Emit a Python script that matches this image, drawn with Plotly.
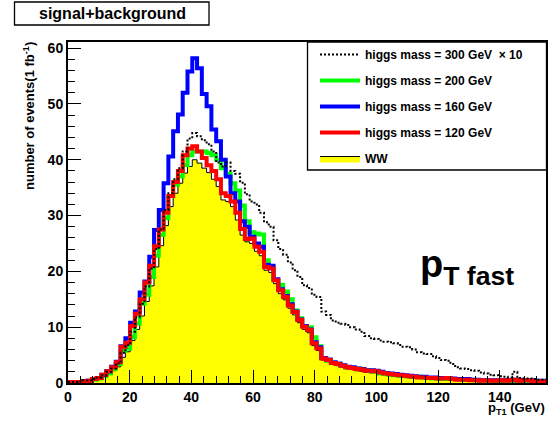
import plotly.graph_objects as go

# ---------------- data (100 bins, 0 - 155 GeV) ----------------
BIN_WIDTH = 1.55
N_BINS = 100

ww = [0.1, 0.1, 0.2, 0.2, 0.3, 0.5, 0.7, 1.1, 1.6, 2.2,
      2.9, 4.6, 5.6, 7.6, 9.6, 12.0, 14.6, 17.4, 20.8, 24.6,
      28.2, 31.6, 34.0, 35.8, 37.6, 38.8, 40.0, 39.4, 38.5, 37.7,
      36.5, 35.2, 32.8, 32.5, 31.6, 29.2, 26.5, 25.3, 25.0, 23.6,
      22.8, 20.2, 19.8, 17.8, 16.0, 14.9, 13.4, 12.2, 10.8, 9.6,
      9.0, 6.7, 5.8, 4.1, 3.8, 3.3, 3.1, 2.8, 2.5, 2.4,
      2.2, 2.1, 1.9, 1.8, 1.8, 1.6, 1.4, 1.3, 1.2, 1.1,
      1.0, 0.9, 0.9, 0.8, 0.8, 0.7, 0.7, 0.6, 0.6, 0.5,
      0.5, 0.5, 0.4, 0.4, 0.4, 0.4, 0.3, 0.3, 0.3, 0.3,
      0.3, 0.3, 0.2, 0.3, 0.2, 0.2, 0.2, 0.2, 0.2, 0.2]

h120 = [0.2, 0.2, 0.2, 0.3, 0.4, 0.7, 0.9, 1.5, 2.1, 2.8,
        3.7, 6.5, 7.2, 10.2, 12.4, 15.0, 18.0, 21.0, 24.5, 27.5,
        30.5, 33.5, 36.0, 38.0, 40.8, 42.0, 42.4, 41.5, 40.3, 39.0,
        38.0, 36.5, 34.0, 33.5, 32.5, 30.5, 27.6, 25.8, 25.9, 24.4,
        23.5, 20.8, 20.5, 18.4, 16.6, 15.4, 13.9, 12.7, 11.3, 10.1,
        9.5, 7.1, 6.2, 4.4, 4.1, 3.6, 3.4, 3.1, 2.8, 2.7,
        2.5, 2.4, 2.2, 2.2, 2.1, 1.9, 1.7, 1.6, 1.5, 1.4,
        1.3, 1.2, 1.1, 1.0, 1.0, 0.9, 0.9, 0.8, 0.8, 0.9,
        0.7, 0.6, 0.6, 0.6, 0.5, 0.5, 0.4, 0.5, 0.4, 0.4,
        0.5, 0.4, 0.5, 0.6, 0.4, 0.5, 0.5, 0.3, 0.3, 0.3]

h160 = [0.2, 0.2, 0.2, 0.3, 0.4, 0.7, 0.9, 1.5, 2.1, 2.9,
        3.8, 6.6, 8.0, 10.8, 12.8, 16.2, 18.2, 22.6, 27.4, 31.0,
        35.8, 40.6, 45.1, 48.1, 52.0, 55.8, 58.2, 56.4, 51.8, 49.6,
        45.4, 43.3, 40.0, 37.0, 34.0, 32.5, 29.0, 28.0, 26.2, 25.0,
        24.4, 21.2, 21.0, 18.6, 16.8, 15.6, 14.1, 12.8, 11.4, 10.2,
        9.6, 7.3, 6.4, 4.5, 4.2, 3.7, 3.5, 3.2, 2.9, 2.8,
        2.6, 2.5, 2.3, 2.3, 2.2, 2.0, 1.8, 1.7, 1.6, 1.5,
        1.4, 1.3, 1.2, 1.1, 1.1, 1.0, 1.0, 0.9, 0.9, 0.9,
        0.8, 0.7, 0.7, 0.7, 0.6, 0.6, 0.5, 0.5, 0.5, 0.5,
        0.5, 0.5, 0.5, 0.6, 0.5, 0.5, 0.5, 0.4, 0.4, 0.4]

h200 = [0.2, 0.2, 0.2, 0.3, 0.3, 0.6, 0.8, 1.2, 1.7, 2.5,
        3.4, 5.8, 6.2, 8.2, 10.6, 14.2, 15.8, 19.0, 22.8, 26.5,
        29.5, 33.5, 35.5, 37.0, 39.0, 40.8, 41.5, 41.5, 41.5, 41.2,
        40.8, 40.0, 38.5, 37.5, 35.8, 34.5, 31.8, 29.0, 27.0, 26.8,
        26.6, 22.0, 20.8, 18.4, 17.6, 16.4, 15.0, 13.0, 11.6, 10.2,
        10.0, 8.2, 6.6, 4.5, 4.0, 3.6, 3.4, 3.1, 2.8, 2.7,
        2.6, 2.5, 2.3, 2.2, 2.0, 1.7, 1.6, 1.5, 1.4, 1.3,
        1.2, 1.2, 1.1, 1.1, 1.0, 0.9, 0.8, 0.8, 0.7, 0.7,
        0.7, 0.7, 0.6, 0.6, 0.6, 0.5, 0.5, 0.5, 0.4, 0.4,
        0.4, 0.4, 0.4, 0.3, 0.3, 0.3, 0.3, 0.3, 0.3, 0.3]

h300x10 = [0.2, 0.2, 0.3, 0.5, 0.5, 0.7, 1.0, 1.4, 2.0, 2.6,
           3.5, 5.4, 6.8, 9.2, 11.8, 14.2, 17.3, 20.5, 24.0, 27.5,
           31.0, 34.0, 36.5, 38.5, 41.5, 43.8, 44.8, 44.2, 43.5, 42.8,
           41.5, 39.5, 38.8, 39.5, 38.0, 37.5, 35.9, 33.8, 32.5, 32.0,
           30.5, 28.8, 28.0, 25.6, 24.0, 23.0, 21.6, 20.2, 19.0, 17.5,
           17.0, 15.8, 15.4, 12.8, 12.2, 11.2, 10.8, 10.6, 10.4, 10.0,
           9.6, 9.2, 8.4, 8.0, 7.9, 7.6, 7.4, 7.3, 7.1, 6.8,
           6.5, 6.4, 6.0, 5.5, 5.3, 5.2, 4.8, 4.5, 4.1, 4.0,
           3.4, 2.8, 2.6, 2.5, 2.3, 2.2, 1.9, 1.7, 1.5, 1.4,
           1.2, 1.1, 1.0, 2.0, 0.9, 0.8, 0.8, 0.7, 0.6, 0.6]

x_ticks = [0, 20, 40, 60, 80, 100, 120, 140]
y_ticks = [0, 10, 20, 30, 40, 50, 60]

legend_labels = {
    "h300": "higgs mass = 300 GeV\u00a0\u00a0\u00d7\u00a010",
    "h200": "higgs mass = 200 GeV",
    "h160": "higgs mass = 160 GeV",
    "h120": "higgs mass = 120 GeV",
    "ww": "WW",
}

# ---------------- helpers ----------------
edges = [i * BIN_WIDTH for i in range(N_BINS + 1)]


def step_y(vals):
    return list(vals) + [vals[-1]]


FONT = "Liberation Sans, Arial, Helvetica, sans-serif"

fig = go.Figure()

fig.add_trace(go.Scatter(
    x=edges, y=step_y(ww), mode="lines", line_shape="hv",
    line=dict(color="black", width=1), fill="tozeroy", fillcolor="#FFFF00",
    name=legend_labels["ww"], legendrank=5, legendgroup="g5"))

fig.add_trace(go.Scatter(
    x=edges, y=step_y(h200), mode="lines", line_shape="hv",
    line=dict(color="#00FF00", width=4),
    name=legend_labels["h200"], legendrank=2, legendgroup="g2"))

fig.add_trace(go.Scatter(
    x=edges, y=step_y(h160), mode="lines", line_shape="hv",
    line=dict(color="#0000FF", width=4),
    name=legend_labels["h160"], legendrank=3, legendgroup="g3"))

fig.add_trace(go.Scatter(
    x=edges, y=step_y(h120), mode="lines", line_shape="hv",
    line=dict(color="#FF0000", width=4),
    name=legend_labels["h120"], legendrank=4, legendgroup="g4"))

fig.add_trace(go.Scatter(
    x=edges, y=step_y(h300x10), mode="lines", line_shape="hv",
    line=dict(color="black", width=2, dash="2px,2px"),
    name=legend_labels["h300"], legendrank=1, legendgroup="g1"))

W, H = 555, 421
# plot area in window pixels: x 68..546, y 42..383
PL, PR, PT, PB = 68, 546, 42, 383
L, R, T, B = PL, W - PR, PT, H - PB
pw, ph = PR - PL, PB - PT


def px_x(p):
    return (p - PL) / pw


def px_y(p):
    return (PB - p) / ph


axis_common = dict(
    showgrid=False, zeroline=False, showline=True, linecolor="black",
    linewidth=2, mirror=True, ticks="inside", tickcolor="black",
    tickwidth=1, ticklen=13,
    tickfont=dict(family=FONT, size=14, color="black", weight="bold"),
)

fig.update_xaxes(range=[0, 155], tickvals=x_ticks,
                 minor=dict(dtick=4, tick0=0, ticks="inside", ticklen=7,
                            tickcolor="black", tickwidth=1, showgrid=False),
                 **axis_common)
fig.update_yaxes(range=[0, 61.1], tickvals=y_ticks,
                 minor=dict(dtick=2, tick0=0, ticks="inside", ticklen=7,
                            tickcolor="black", tickwidth=1, showgrid=False),
                 **axis_common)

shapes = [
    # title box
    dict(type="rect", xref="paper", yref="paper",
         x0=px_x(14.5), x1=px_x(209), y0=px_y(25), y1=px_y(2),
         line=dict(color="black", width=1.3), fillcolor="white", layer="above"),
    # legend box
    dict(type="rect", xref="paper", yref="paper",
         x0=px_x(307.5), x1=px_x(546.5), y0=px_y(170), y1=px_y(42),
         line=dict(color="black", width=1.3), fillcolor="white", layer="below"),
]

annotations = [
    dict(text="signal+background", xref="paper", yref="paper",
         x=px_x(112), y=px_y(13.5), xanchor="center", yanchor="middle",
         showarrow=False, font=dict(family=FONT, size=16, color="black", weight="bold")),
    dict(text="number of events(1 fb<sup>-1</sup>)", xref="paper", yref="paper",
         x=px_x(29), y=px_y(40), xanchor="center", yanchor="top", textangle=-90,
         showarrow=False, font=dict(family=FONT, size=13, color="black", weight="bold")),
    dict(text="p<sub>T1</sub> (GeV)", xref="paper", yref="paper",
         x=px_x(547), y=px_y(408), xanchor="right", yanchor="middle",
         showarrow=False, font=dict(family=FONT, size=13, color="black", weight="bold")),
    dict(text="p<sub>T fast</sub>", xref="paper", yref="paper",
         x=px_x(418), y=px_y(267), xanchor="left", yanchor="middle",
         showarrow=False, font=dict(family=FONT, size=38, color="black", weight="bold")),
]

fig.update_layout(
    width=W, height=H,
    margin=dict(l=L, r=R, t=T, b=B, pad=0, autoexpand=False),
    paper_bgcolor="white", plot_bgcolor="white",
    shapes=shapes, annotations=annotations,
    showlegend=True,
    legend=dict(x=px_x(315), y=px_y(40), xanchor="left", yanchor="top",
                bgcolor="rgba(0,0,0,0)", borderwidth=0,
                traceorder="grouped", tracegroupgap=7, itemwidth=40,
                font=dict(family=FONT, size=12, color="black", weight="bold")),
)

fig.write_html(
    "out.html",
    config={"displayModeBar": False},
    post_script="document.body.style.margin='0px';document.body.style.overflow='hidden';",
)
